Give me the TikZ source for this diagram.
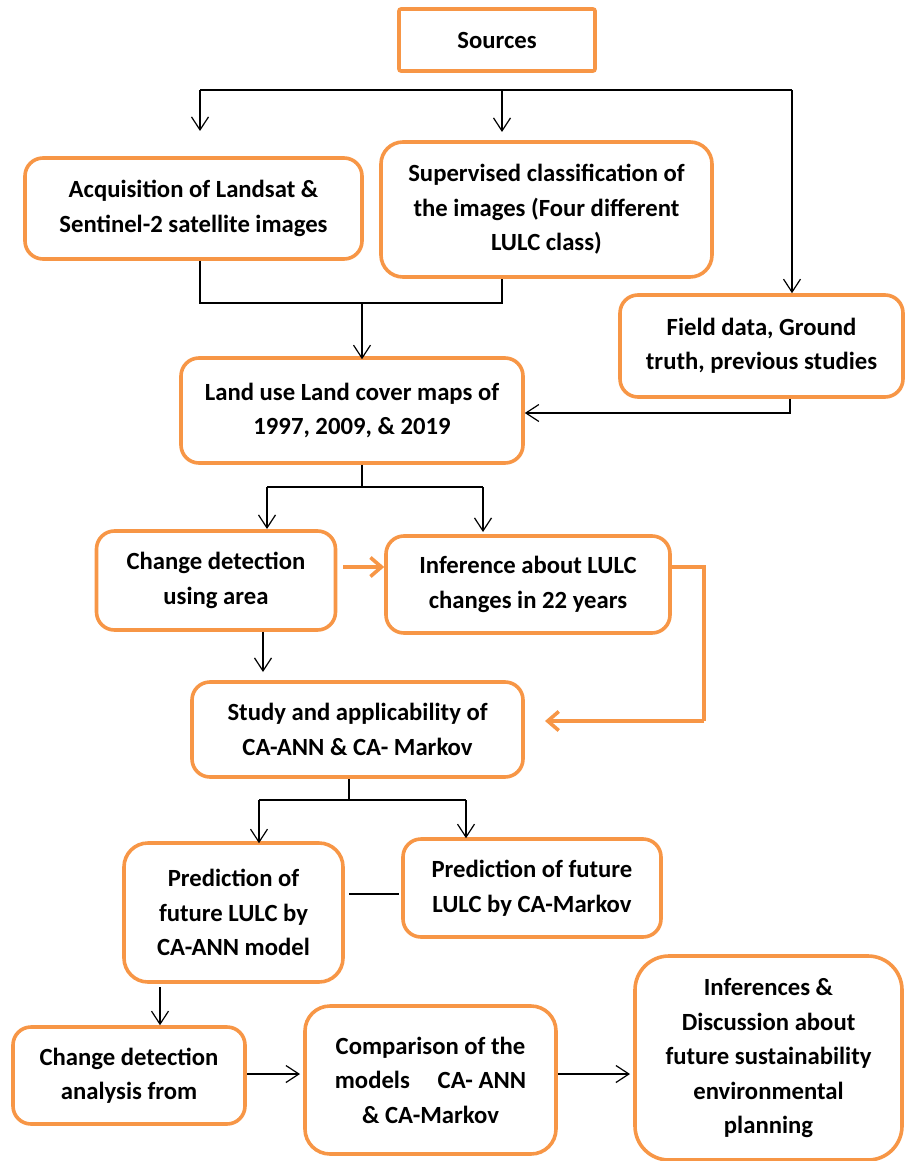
\documentclass[tikz,border=0pt]{standalone}
\usepackage{fontspec}
\setmainfont{Carlito}
\usetikzlibrary{arrows.meta,calc}
\definecolor{boxorange}{HTML}{F79646}
\begin{document}
\begin{tikzpicture}[x=1pt,y=-1pt,
  box/.style={draw=boxorange, line width=3.6pt, rounded corners=18pt, align=center,
    inner sep=0pt, font=\fontsize{24.7}{34.5}\selectfont\bfseries, text=black},
  conn/.style={draw=black, line width=1.2pt},
  arr/.style={conn, -{Straight Barb[length=13pt,width=17pt]}},
  oarr/.style={draw=boxorange, line width=3.6pt, -{Straight Barb[length=11pt,width=19pt]}},
  oline/.style={draw=boxorange, line width=3.6pt}]
\useasboundingbox (0,0) rectangle (905,1161);

\node[box, rounded corners=2pt, minimum width=196pt, minimum height=62pt] (src) at (497,40) {Sources};
\node[box, minimum width=337pt, minimum height=101pt] (acq) at (193.5,208.5) {Acquisition of Landsat \&\\Sentinel-2 satellite images};
\node[box, rounded corners=22pt, minimum width=331pt, minimum height=135pt] (sup) at (546.5,209.5) {Supervised classification of\\the images (Four different\\LULC class)};
\node[box, minimum width=283pt, minimum height=102pt] (fld) at (761.5,346) {Field data, Ground\\truth, previous studies};
\node[box, minimum width=342pt, minimum height=105pt] (lulc) at (352,410.5) {Land use Land cover maps of\\1997, 2009, \& 2019};
\node[box, minimum width=239pt, minimum height=99pt] (cd) at (216,580.5) {Change detection\\using area};
\node[box, minimum width=284pt, minimum height=97pt] (inf) at (528,584.5) {Inference about LULC\\changes in 22 years};
\node[box, minimum width=331pt, minimum height=95pt] (study) at (357.5,729.5) {Study and applicability of\\CA-ANN \& CA- Markov};
\node[box, rounded corners=24pt, minimum width=219pt, minimum height=139pt] (ann) at (233.5,912.5) {Prediction of\\future LULC by\\CA-ANN model};
\node[box, minimum width=258pt, minimum height=98pt] (mkv) at (532,888) {Prediction of future\\LULC by CA-Markov};
\node[box, minimum width=232pt, minimum height=97pt] (cda) at (129,1075.5) {Change detection\\analysis from};
\node[box, rounded corners=25pt, minimum width=251pt, minimum height=148pt] (cmp) at (430.5,1080) {Comparison of the\\models\hspace{0.9em} CA- ANN\\\& CA-Markov};
\node[box, rounded corners=34pt, minimum width=267pt, minimum height=204pt] (infs) at (768.5,1058) {Inferences \&\\Discussion about\\future sustainability\\environmental\\planning};

% top distribution
\coordinate (t1) at (200,90);
\coordinate (t2) at (502,90);
\coordinate (t3) at (792,90);
\coordinate (e1) at (200,131);
\coordinate (e2) at (502,132);
\draw[conn] (t1) -- (t3);
\draw[arr] (t1) -- (e1);
\draw[arr] (t2) -- (e2);
\draw[arr] (t3) -- (t3 |- fld.north);

% acquisition + supervised to LULC
\coordinate (j1) at (200,303);
\coordinate (j2) at (502,303);
\coordinate (j3) at (362,303);
\draw[conn] (j1 |- acq.south) -- (j1) -- (j2) -- (j2 |- sup.south);
\draw[arr] (j3) -- ([yshift=-3pt]j3 |- lulc.north);

% field data to LULC
\coordinate (f1) at (790,413);
\draw[arr] (f1 |- fld.south) -- (f1) -- (lulc.east |- f1);

% LULC to change detection / inference
\coordinate (l0) at (362,487);
\coordinate (l1) at (267,487);
\coordinate (l2) at (483,487);
\coordinate (l1e) at (267,529);
\coordinate (l2e) at (483,532);
\draw[conn] (l0 |- lulc.south) -- (l0);
\draw[conn] (l1) -- (l2);
\draw[arr] (l1) -- (l1e);
\draw[arr] (l2) -- (l2e);

% orange connectors
\coordinate (o1) at (343,567);
\draw[oarr] (o1) -- (inf.west |- o1);
\coordinate (o2) at (704,567);
\coordinate (o3) at (704,721);
\coordinate (o4) at (545,721);
\draw[oline] (inf.east |- o2) -- (o2) -- (o3);
\draw[oarr] (o3) -- (o4);

% change detection to study
\coordinate (c1) at (263,672);
\draw[arr] (c1 |- cd.south) -- (c1);

% study to predictions
\coordinate (s0) at (349,800);
\coordinate (s1) at (259,800);
\coordinate (s2) at (466,800);
\draw[conn] (s0 |- study.south) -- (s0);
\draw[conn] (s1) -- (s2);
\draw[arr] (s1) -- ([yshift=-2pt]s1 |- ann.north);
\draw[arr] (s2) -- ([yshift=-1pt]s2 |- mkv.north);

% ann - markov plain line
\coordinate (m1) at (349,894);
\coordinate (m2) at (399,894);
\draw[conn] (m1) -- (m2);

% ann to change detection analysis
\coordinate (a1) at (160,987);
\draw[arr] (a1) -- (a1 |- cda.north);

% bottom row
\coordinate (b1) at (247,1074);
\coordinate (b2) at (300,1074);
\coordinate (b3) at (558,1074);
\coordinate (b4) at (630,1074);
\draw[arr] (b1) -- (b2);
\draw[arr] (b3) -- (b4);
\end{tikzpicture}
\end{document}
